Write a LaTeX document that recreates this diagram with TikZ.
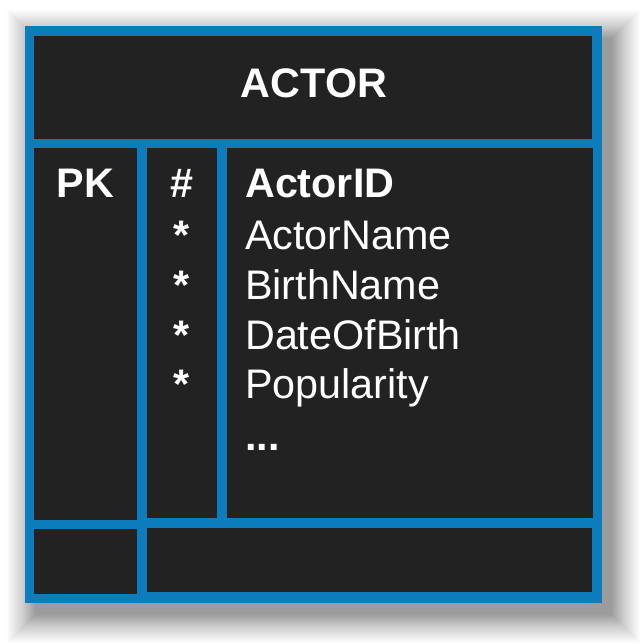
\documentclass[tikz,border=0pt]{standalone}
\usepackage{fontspec}
\setmainfont{Liberation Sans}
\definecolor{erblue}{HTML}{0D7CBD}
\definecolor{erdark}{HTML}{222222}
\tikzset{
  cell/.style={fill=erdark},
  txt/.style={text=white, inner sep=0pt, font=\fontsize{41.3}{49}\selectfont},
  btxt/.style={txt, font=\fontsize{41.3}{49}\selectfont\bfseries},
}
\begin{document}
\begin{tikzpicture}[x=1pt,y=-1pt]
\useasboundingbox (0,0) rectangle (643,644);
% drop shadow
\foreach \r in {0,...,28}{
  \fill[black, opacity=0.012] (35-\r,38-\r) rectangle (612+\r,615+\r);
}
\foreach \r in {0,...,12}{
  \fill[black, opacity=0.01] (35-\r,38-\r) rectangle (612+\r,615+\r);
}
% outer frame
\fill[erblue] (25,26) rectangle (602,603);
% cells
\fill[cell] (34,36) rectangle (592,139);
\fill[cell] (34,148) rectangle (137,520);
\fill[cell] (147,148) rectangle (217,518);
\fill[cell] (227,148) rectangle (593,518);
\fill[cell] (34,529) rectangle (137,594);
\fill[cell] (147,528) rectangle (592,592);
% texts
\node[btxt, anchor=base] (title) at (314,98) {ACTOR};
\node[btxt, anchor=base] (pk) at (85.5,198) {PK};
\node[btxt, anchor=base] (hash) at (182,198) {\#};
\node[btxt, anchor=base] (s1) at (182,249) {*};
\node[btxt, anchor=base] (s2) at (182,299) {*};
\node[btxt, anchor=base] (s3) at (182,349) {*};
\node[btxt, anchor=base] (s4) at (182,398) {*};
\node[btxt, anchor=base west] (a0) at (245,198) {ActorID};
\node[txt, anchor=base west] (a1) at (245,249) {ActorName};
\node[txt, anchor=base west] (a2) at (245,299) {BirthName};
\node[txt, anchor=base west] (a3) at (245,349) {DateOfBirth};
\node[txt, anchor=base west] (a4) at (245,398) {Popularity};
\node[btxt, anchor=base west] (a5) at (245,450) {...};
\end{tikzpicture}
\end{document}
